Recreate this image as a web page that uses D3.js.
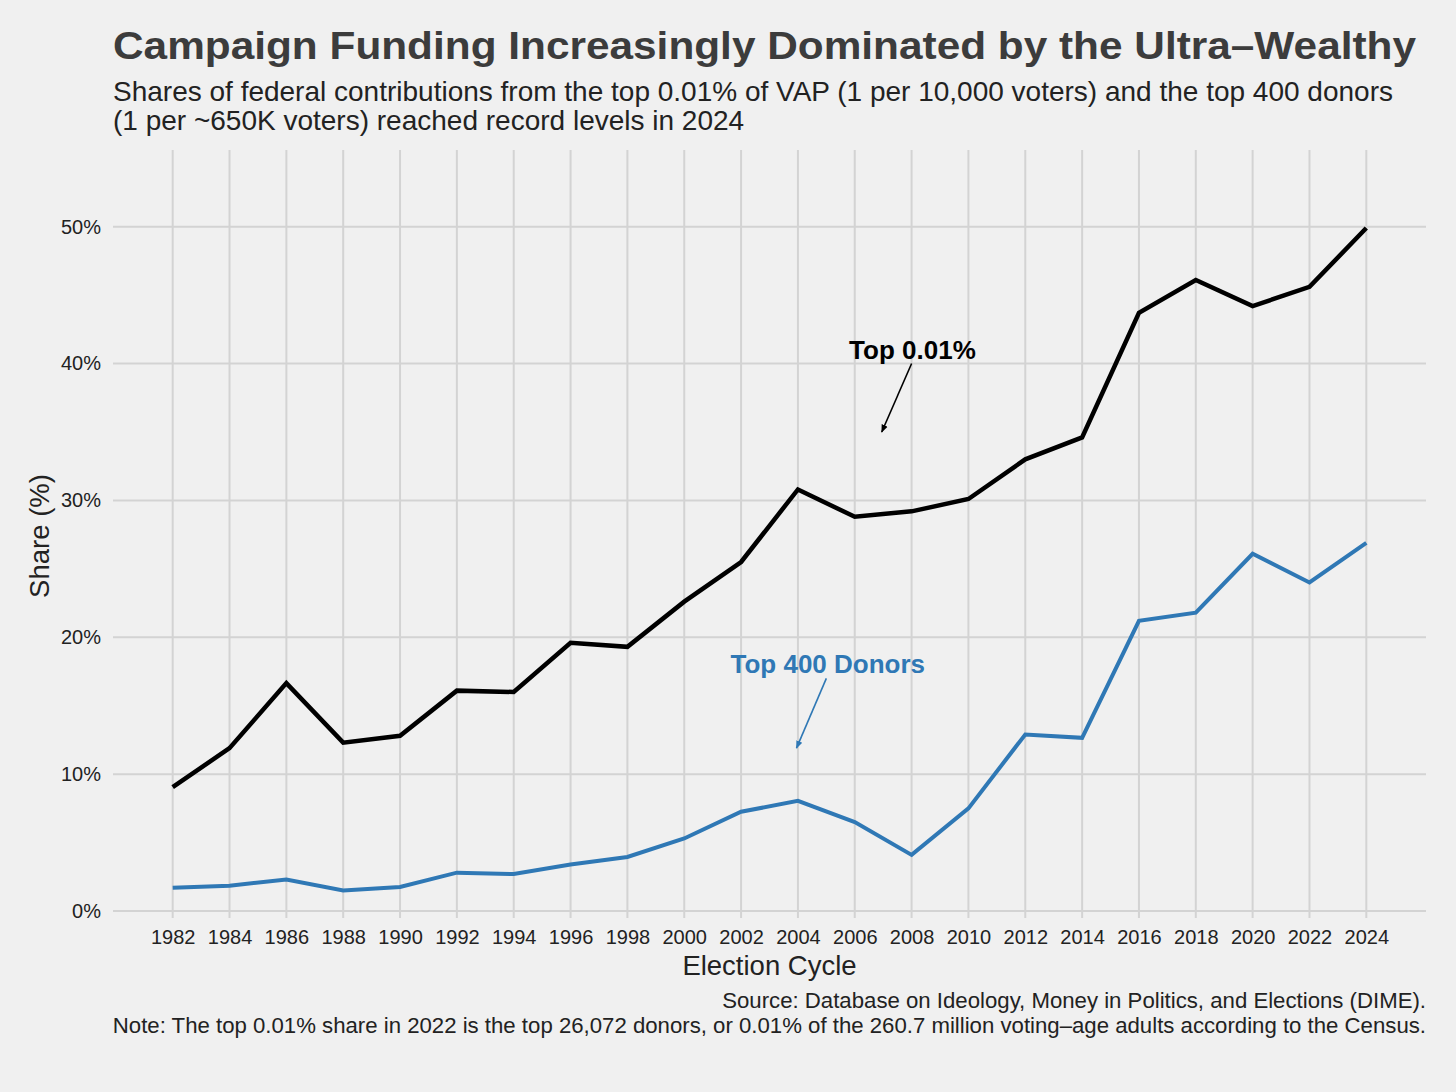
<!DOCTYPE html>
<html>
<head>
<meta charset="utf-8">
<script src="https://cdn.jsdelivr.net/npm/d3@7"></script>
<style>
  body { margin: 0; background: #f0f0f0; }
  svg { display: block; font-family: "Liberation Sans", Arial, Helvetica, sans-serif; }
</style>
</head>
<body>
<div id="chart"></div>
<script>
// Election cycles and shares (%)
const years = [1982, 1984, 1986, 1988, 1990, 1992, 1994, 1996, 1998, 2000, 2002,
  2004, 2006, 2008, 2010, 2012, 2014, 2016, 2018, 2020, 2022, 2024];
const top001 = [9.05, 11.9, 16.65, 12.3, 12.8, 16.1, 16.0, 19.6, 19.3, 22.6, 25.5,
  30.8, 28.8, 29.2, 30.1, 33.0, 34.6, 43.7, 46.1, 44.2, 45.6, 49.9];
const top400 = [1.7, 1.85, 2.3, 1.5, 1.75, 2.8, 2.7, 3.4, 3.95, 5.3, 7.25,
  8.05, 6.5, 4.1, 7.5, 12.9, 12.65, 21.2, 21.8, 26.1, 24.0, 26.9];
const yTicks = [0, 10, 20, 30, 40, 50];

const width = 1456;
const height = 1092;
const BLACK = '#000000';
const BLUE = '#2f78b5';
const GRID = '#d3d3d3';

const svg = d3.select('#chart')
  .append('svg')
  .attr('width', width)
  .attr('height', height);

svg.append('rect').attr('width', width).attr('height', height).attr('fill', '#f0f0f0');

// Scales (ggplot-like expansion on x)
const x = d3.scaleLinear().domain([1979.9, 2026.1]).range([113, 1426]);
const y = d3.scaleLinear().domain([0, 55.6]).range([911, 150]);

// Gridlines
svg.append('g')
  .selectAll('line')
  .data(years)
  .join('line')
  .attr('x1', (d) => x(d)).attr('x2', (d) => x(d))
  .attr('y1', y(55.6)).attr('y2', 918)
  .attr('stroke', GRID)
  .attr('stroke-width', 2);

svg.append('g')
  .selectAll('line')
  .data(yTicks)
  .join('line')
  .attr('x1', 113).attr('x2', 1426)
  .attr('y1', (d) => y(d)).attr('y2', (d) => y(d))
  .attr('stroke', GRID)
  .attr('stroke-width', 2);

// Axes (labels only, gridlines drawn above)
const xAxis = d3.axisBottom(x).tickValues(years).tickFormat(d3.format('d')).tickSize(0).tickPadding(0);
const gx = svg.append('g').attr('transform', 'translate(0, 944)').call(xAxis);
gx.select('.domain').remove();
gx.selectAll('text')
  .attr('dy', 0)
  .attr('fill', '#222')
  .style('font-size', '20px');

const yAxis = d3.axisLeft(y).tickValues(yTicks).tickFormat((d) => `${d}%`).tickSize(0).tickPadding(0);
const gy = svg.append('g').attr('transform', 'translate(101, 0)').call(yAxis);
gy.select('.domain').remove();
gy.selectAll('text')
  .attr('fill', '#222')
  .style('font-size', '20px');

// Lines
const line = d3.line()
  .x((d, i) => x(years[i]))
  .y((d) => y(d));

svg.append('path')
  .datum(top400)
  .attr('d', line)
  .attr('fill', 'none')
  .attr('stroke', BLUE)
  .attr('stroke-width', 4)
  .attr('stroke-linejoin', 'miter');

svg.append('path')
  .datum(top001)
  .attr('d', line)
  .attr('fill', 'none')
  .attr('stroke', BLACK)
  .attr('stroke-width', 4.5)
  .attr('stroke-linejoin', 'miter');

// Arrow markers
function addArrowMarker(id, color) {
  svg.append('defs')
    .append('marker')
    .attr('id', id)
    .attr('viewBox', '0 0 10 10')
    .attr('refX', 9)
    .attr('refY', 5)
    .attr('markerWidth', 5)
    .attr('markerHeight', 5)
    .attr('orient', 'auto')
    .append('path')
    .attr('d', 'M0,1 L10,5 L0,9 Z')
    .attr('fill', color);
}
addArrowMarker('arrow-black', BLACK);
addArrowMarker('arrow-blue', BLUE);

// Annotations
svg.append('text')
  .attr('x', x(2008.03)).attr('y', y(40.3))
  .attr('text-anchor', 'middle')
  .attr('font-weight', 'bold')
  .attr('fill', BLACK)
  .style('font-size', '26px')
  .text('Top 0.01%');

svg.append('line')
  .attr('x1', x(2008)).attr('y1', y(40))
  .attr('x2', x(2006.95)).attr('y2', y(35.0))
  .attr('stroke', BLACK)
  .attr('stroke-width', 1.6)
  .attr('marker-end', 'url(#arrow-black)');

svg.append('text')
  .attr('x', x(2005.05)).attr('y', y(17.4))
  .attr('text-anchor', 'middle')
  .attr('font-weight', 'bold')
  .attr('fill', BLUE)
  .style('font-size', '26px')
  .text('Top 400 Donors');

svg.append('line')
  .attr('x1', x(2005)).attr('y1', y(17))
  .attr('x2', x(2003.95)).attr('y2', y(11.9))
  .attr('stroke', BLUE)
  .attr('stroke-width', 1.6)
  .attr('marker-end', 'url(#arrow-blue)');

// Titles
svg.append('text')
  .attr('x', 113).attr('y', 59)
  .attr('font-weight', 'bold')
  .attr('fill', '#3c3c3c')
  .attr('textLength', 1303)
  .attr('lengthAdjust', 'spacingAndGlyphs')
  .style('font-size', '39px')
  .text('Campaign Funding Increasingly Dominated by the Ultra\u2013Wealthy');

svg.append('text')
  .attr('x', 113).attr('y', 101)
  .attr('fill', '#222')
  .style('font-size', '28px')
  .text('Shares of federal contributions from the top 0.01% of VAP (1 per 10,000 voters) and the top 400 donors');

svg.append('text')
  .attr('x', 113).attr('y', 130)
  .attr('fill', '#222')
  .style('font-size', '28px')
  .text('(1 per ~650K voters) reached record levels in 2024');

// Axis titles
svg.append('text')
  .attr('x', x(2003)).attr('y', 975)
  .attr('text-anchor', 'middle')
  .attr('fill', '#222')
  .style('font-size', '27.5px')
  .text('Election Cycle');

svg.append('text')
  .attr('transform', 'translate(49, 536) rotate(-90)')
  .attr('text-anchor', 'middle')
  .attr('fill', '#222')
  .style('font-size', '27.5px')
  .text('Share (%)');

// Footer
svg.append('text')
  .attr('x', 1426).attr('y', 1008)
  .attr('text-anchor', 'end')
  .attr('fill', '#222')
  .style('font-size', '22.2px')
  .text('Source: Database on Ideology, Money in Politics, and Elections (DIME).');

svg.append('text')
  .attr('x', 1426).attr('y', 1033)
  .attr('text-anchor', 'end')
  .attr('fill', '#222')
  .style('font-size', '22.2px')
  .text('Note: The top 0.01% share in 2022 is the top 26,072 donors, or 0.01% of the 260.7 million voting\u2013age adults according to the Census.');
</script>
</body>
</html>
